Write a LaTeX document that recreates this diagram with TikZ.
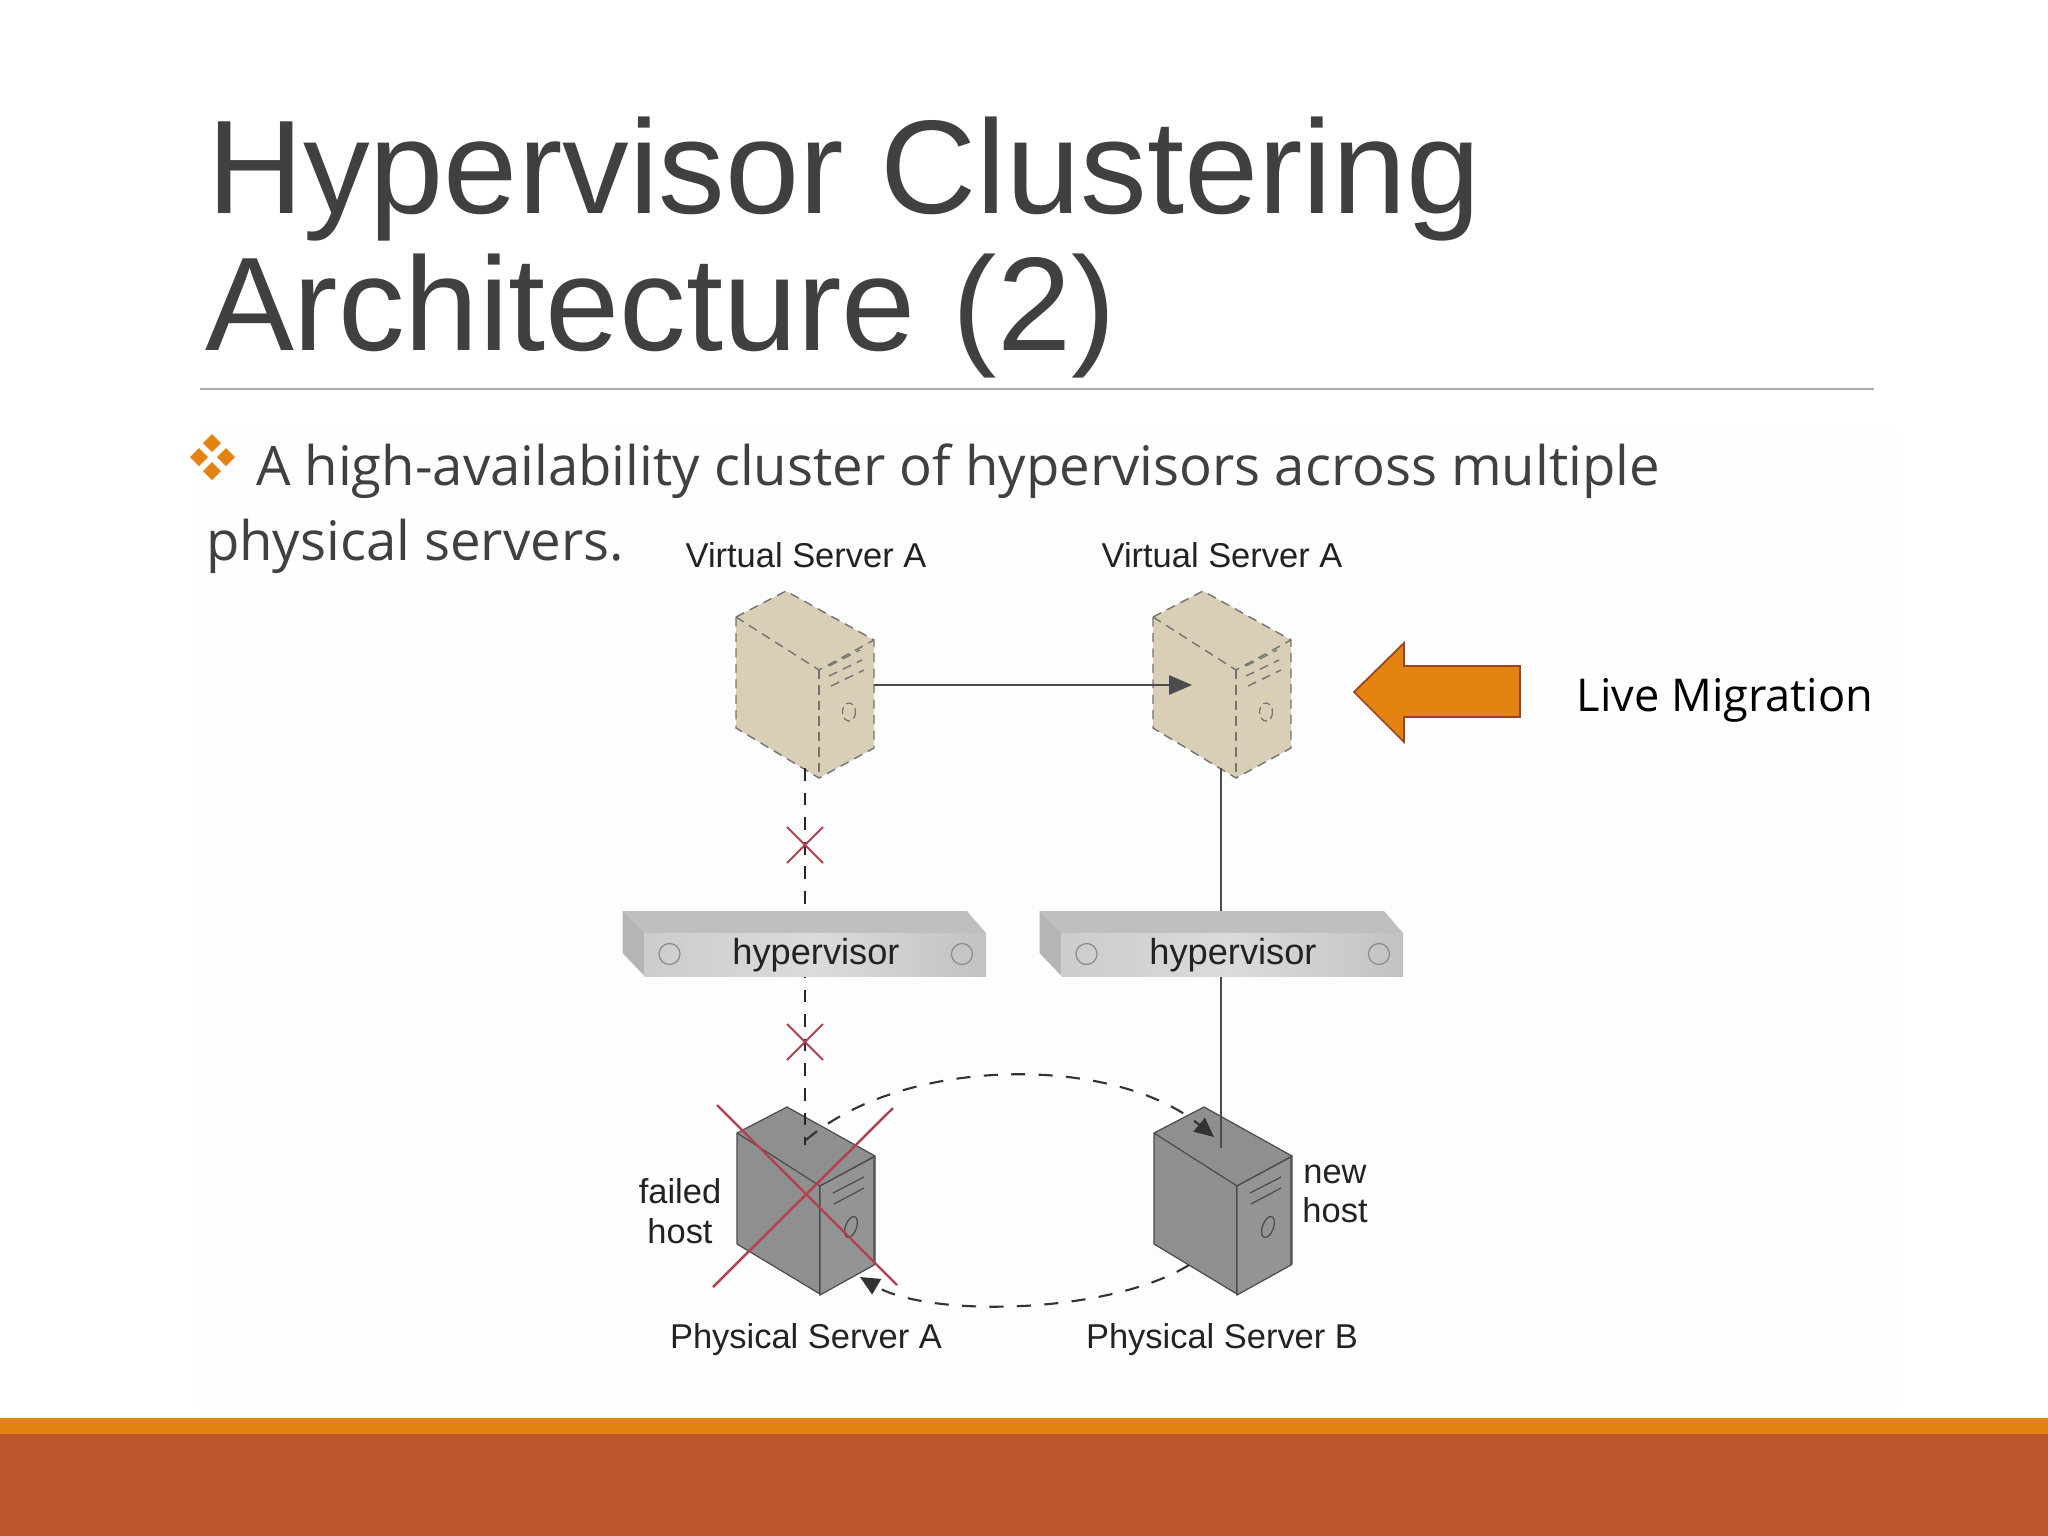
\documentclass[tikz,border=0pt]{standalone}
\usepackage{fontspec}
\setmainfont{Liberation Sans}
\newfontfamily\bodyfont{Open Sans}
\usetikzlibrary{arrows.meta}
\definecolor{retroorange}{HTML}{E48312}
\definecolor{retrorust}{HTML}{BD582C}
\definecolor{retrotext}{HTML}{404040}
\definecolor{towertan}{HTML}{D9CFB6}
\definecolor{towergray}{HTML}{8F8F8F}
\definecolor{crossred}{HTML}{B5404F}
\definecolor{diagtext}{HTML}{222222}
\tikzset{
  txt/.style={inner sep=0pt,outer sep=0pt},
  titletext/.style={txt,anchor=base west,text=retrotext,font=\fontsize{37.9}{38}\selectfont},
  bodytext/.style={txt,anchor=base west,text=retrotext,font=\bodyfont\fontsize{15.5}{15.5}\selectfont},
  difflabel/.style={txt,text=diagtext,font=\fontsize{9.8}{9.8}\selectfont},
  virtualedge/.style={draw=black!55,line width=0.4pt,dash pattern=on 2.6pt off 1.8pt},
  physedge/.style={draw=black!70,line width=0.35pt},
  redcross/.style={draw=crossred,line width=0.55pt},
  bigcross/.style={draw=crossred,line width=0.7pt},
  failedlink/.style={draw=black!85,line width=0.45pt,dash pattern=on 3.6pt off 3.4pt},
  oklink/.style={draw=black!70,line width=0.45pt},
  movelink/.style={draw=black!80,line width=0.6pt,dash pattern=on 4pt off 3.8pt,-{Triangle[length=5.5pt,width=5pt]}},
  bullet/.style={fill=retroorange,draw=none},
}
\newcommand{\towerbody}[4]{% x shift, y shift, fill, edge style
  \begin{scope}[shift={(#1,#2)}]
    \fill[#3] (786,591) -- (874,640) -- (874,748) -- (819,778) -- (736,728) -- (736,617) -- cycle;
    \path[#4] (736,617) -- (786,591) -- (874,640) -- (874,748) -- (819,778) -- (736,728) -- cycle;
    \path[#4] (736,617) -- (819,670) -- (874,640);
    \path[#4] (819,670) -- (819,778);
  \end{scope}}
\newcommand{\hyperbar}[2]{% x shift, name
  \begin{scope}[shift={(#1,0)}]
    \fill[black!25] (622.5,911) -- (967,911) -- (986,933) -- (644.5,933) -- cycle;
    \fill[black!29] (622.5,911) -- (644.5,933) -- (644.5,976) -- (622.5,953) -- cycle;
    \fill[left color=black!20,right color=black!24,middle color=black!14] (644.5,933) rectangle (986,976);
    \draw[black!45,line width=0.35pt] (669.5,954) circle (10.5);
    \draw[black!45,line width=0.35pt] (962,954) circle (10.5);
    \node[difflabel,font=\fontsize{10.3}{10.3}\selectfont] (#2) at (816,955) {hypervisor};
  \end{scope}}
\begin{document}
\begin{tikzpicture}[x=0.01cm,y=-0.01cm]
\useasboundingbox (0,0) rectangle (2048,1536);
\fill[white] (0,0) rectangle (2048,1536);
\fill[black!0.4] (195,430) rectangle (1900,1410);
\fill[black!0.7] (620,515) rectangle (1438,1385);
% bottom band
\fill[retrorust] (0,1434) rectangle (2048,1536);
\fill[retroorange] (0,1418) rectangle (2048,1434);
% title
\node[titletext] (title1) at (207,213) {Hypervisor Clustering};
\node[titletext] (title2) at (205,350) {Architecture (2)};
\draw[black!32,line width=0.4pt] (200,389) -- (1874,389);
% bullet
\fill[bullet] (212,434) -- (221,443) -- (212,452) -- (203,443) -- cycle;
\fill[bullet] (199,448) -- (208,457) -- (199,466) -- (190,457) -- cycle;
\fill[bullet] (226,448) -- (235,457) -- (226,466) -- (217,457) -- cycle;
\fill[bullet] (212,462) -- (221,471) -- (212,480) -- (203,471) -- cycle;
\node[bodytext] (body1) at (256,485) {A high-availability cluster of hypervisors across multiple};
\node[bodytext] (body2) at (206,560) {physical servers.};
% labels
\node[difflabel] (v1) at (806,555) {Virtual Server A};
\node[difflabel] (v2) at (1222,555) {Virtual Server A};
\node[difflabel] (p1) at (806,1340) {Physical Server A};
\node[difflabel] (p2) at (1222,1340) {Physical Server B};
\node[difflabel,align=center] (failed) at (680,1211) {failed\\[1.5pt]host};
\node[difflabel,align=center] (new) at (1335,1194) {new\\[1.5pt]host};
% virtual servers
\towerbody{0}{0}{towertan}{virtualedge}
\towerbody{417}{0}{towertan}{virtualedge}
\foreach \dx in {0,417}{
  \begin{scope}[shift={(\dx,0)}]
    \draw[virtualedge] (829,666) -- (860,650);
    \draw[virtualedge] (829,676) -- (862,660);
    \draw[virtualedge] (831,686) -- (864,670);
    \draw[black!55,line width=0.35pt,dash pattern=on 2pt off 1.2pt] (849,712) ellipse (6.5 and 9);
  \end{scope}}
% physical servers
\towerbody{1}{516}{towergray}{physedge}
\towerbody{418}{516}{towergray}{physedge}
\fill[black!42] (820,1186) -- (874,1157) -- (874,1265) -- (820,1295) -- cycle;
\fill[black!42] (1237,1186) -- (1291,1157) -- (1291,1265) -- (1237,1295) -- cycle;
\path[physedge] (820,1186) -- (874,1157) -- (874,1265) -- (820,1295) -- cycle;
\path[physedge] (1237,1186) -- (1291,1157) -- (1291,1265) -- (1237,1295) -- cycle;
\foreach \dx in {0,417}{
  \begin{scope}[shift={(\dx,0)}]
    \draw[physedge] (833,1193) -- (864,1177);
    \draw[physedge] (834,1204) -- (864,1188);
    \draw[physedge,rotate around={-20:(851,1227)}] (851,1227) ellipse (5.5 and 11);
  \end{scope}}
% connectors
\coordinate (vsA) at (805,768);
\coordinate (vsB) at (1221,768);
\coordinate (hostA) at (805,1145);
\coordinate (hostB) at (1221,1148);
\coordinate (vsAface) at (874,685);
\coordinate (vsBface) at (1192,685);
\draw[-{Triangle[length=6.5pt,width=5.5pt]},oklink] (vsAface) -- (vsBface);
\draw[failedlink] (vsA) -- (hostA);
\draw[oklink] (vsB) -- (hostB);
\hyperbar{0}{hyperA}
\hyperbar{417}{hyperB}
% small red crosses
\coordinate (xa) at (805,845);
\coordinate (xb) at (805,1042);
\draw[redcross] ([shift={(-18,-18)}]xa) -- ([shift={(18,18)}]xa);
\draw[redcross] ([shift={(18,-18)}]xa) -- ([shift={(-18,18)}]xa);
\draw[redcross] ([shift={(-18,-18)}]xb) -- ([shift={(18,18)}]xb);
\draw[redcross] ([shift={(18,-18)}]xb) -- ([shift={(-18,18)}]xb);
% failover arcs
\coordinate (arcAstart) at (806,1140);
\coordinate (arcAend) at (1214,1137);
\coordinate (arcBstart) at (1189,1265);
\coordinate (arcBend) at (860,1277);
\path[movelink] (arcAstart) .. controls (905,1055) and (1115,1055) .. (arcAend);
\path[movelink] (arcBstart) .. controls (1110,1314) and (930,1318) .. (arcBend);
% big red cross
\coordinate (bc1) at (717,1105);
\coordinate (bc2) at (897,1285);
\coordinate (bc3) at (893,1108);
\coordinate (bc4) at (713,1287);
\draw[bigcross] (bc1) -- (bc2);
\draw[bigcross] (bc3) -- (bc4);
% live migration
\draw[fill=retroorange,draw=retrorust!80!black,line width=0.5pt] (1354,692) -- (1404,643) -- (1404,666) -- (1520,666) -- (1520,717) -- (1404,717) -- (1404,742) -- cycle;
\node[txt,text=black,font=\bodyfont\fontsize{12.85}{12.85}\selectfont] (live) at (1725,700) {Live Migration};
\end{tikzpicture}
\end{document}
